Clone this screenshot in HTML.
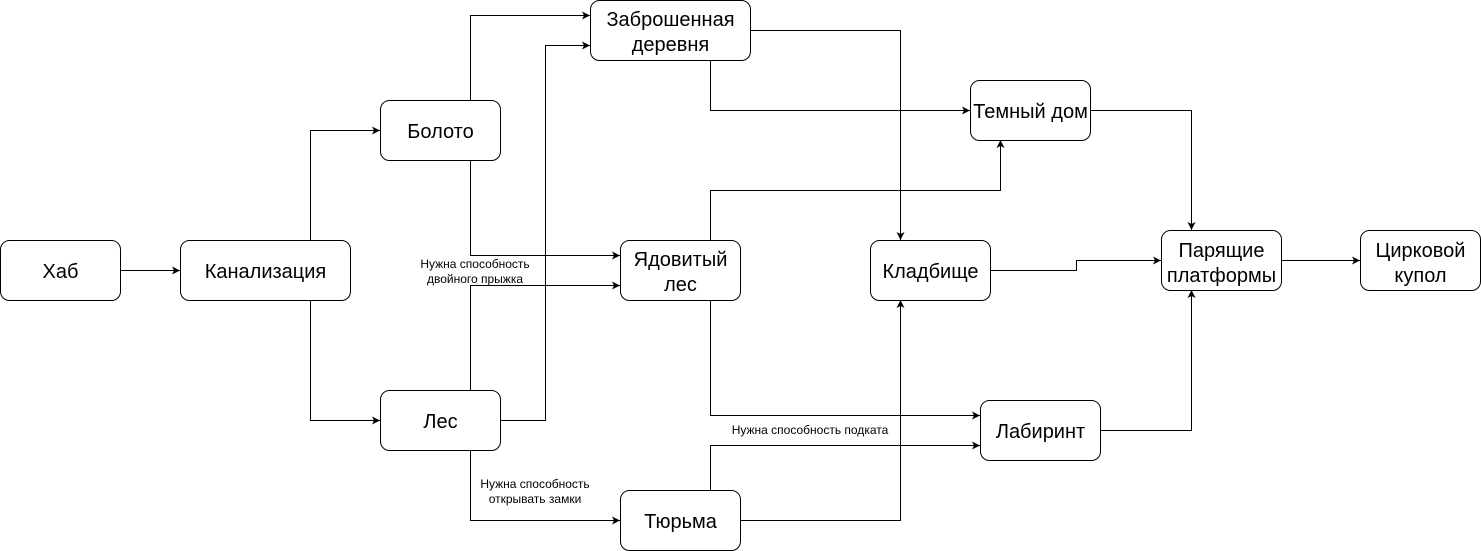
<!DOCTYPE html>
<html><head><meta charset="utf-8"><style>
html,body{margin:0;padding:0;background:#fff}
svg{display:block}
text{font-family:"Liberation Sans",Arial,sans-serif;fill:#000}
.b{font-size:20px;text-anchor:middle}
.l{font-size:12px;text-anchor:middle}
</style></head><body>
<svg width="1481" height="551" viewBox="0 0 1481 551" xmlns="http://www.w3.org/2000/svg">
<defs><marker id="a" markerWidth="10" markerHeight="10" refX="9" refY="5" orient="auto" markerUnits="userSpaceOnUse"><path d="M1,1 L9,5 L1,9 L3,5 z" fill="#000"/></marker></defs>
<g fill="none" stroke="#000" stroke-width="1" marker-end="url(#a)">
<path d="M120.5,270.5H180"/>
<path d="M310.5,240V130.5H380"/>
<path d="M310.5,300V420.5H380"/>
<path d="M470.5,100V15.5H590"/>
<path d="M470.5,160V255.5H620"/>
<path d="M470.5,390V285.5H620"/>
<path d="M500,420.5H545.5V45.5H590"/>
<path d="M470.5,450V520.5H620"/>
<path d="M710.5,60V110.5H970"/>
<path d="M750,30.5H900.5V240"/>
<path d="M710.5,240V190.5H1000.5V140"/>
<path d="M710.5,300V415.5H980"/>
<path d="M710.5,490V445.5H980"/>
<path d="M740,520.5H900.5V300"/>
<path d="M1090,110.5H1191.5V230"/>
<path d="M990,270.5H1076.5V260.5H1161"/>
<path d="M1100,430.5H1191.5V290"/>
<path d="M1281,260.5H1360"/>
</g>
<g fill="#fff" stroke="#000" stroke-width="1">
<rect x="0.5" y="240.5" width="120" height="60" rx="9"/>
<rect x="180.5" y="240.5" width="170" height="60" rx="9"/>
<rect x="380.5" y="100.5" width="120" height="60" rx="9"/>
<rect x="380.5" y="390.5" width="120" height="60" rx="9"/>
<rect x="590.5" y="0.5" width="160" height="60" rx="9"/>
<rect x="620.5" y="240.5" width="120" height="60" rx="9"/>
<rect x="620.5" y="490.5" width="120" height="60" rx="9"/>
<rect x="970.5" y="80.5" width="120" height="60" rx="9"/>
<rect x="870.5" y="240.5" width="120" height="60" rx="9"/>
<rect x="980.5" y="400.5" width="120" height="60" rx="9"/>
<rect x="1161.5" y="230.5" width="120" height="60" rx="9"/>
<rect x="1360.5" y="230.5" width="120" height="60" rx="9"/>
</g>
<text class="b" x="60.5" y="278">Хаб</text>
<text class="b" x="265.5" y="278">Канализация</text>
<text class="b" x="440.5" y="138">Болото</text>
<text class="b" x="440.5" y="428">Лес</text>
<text class="b" x="670.5" y="26">Заброшенная</text>
<text class="b" x="670.5" y="51">деревня</text>
<text class="b" x="680.5" y="266">Ядовитый</text>
<text class="b" x="680.5" y="291">лес</text>
<text class="b" x="680.5" y="528">Тюрьма</text>
<text class="b" x="1030.5" y="118">Темный дом</text>
<text class="b" x="930.5" y="278">Кладбище</text>
<text class="b" x="1040.5" y="438">Лабиринт</text>
<text class="b" x="1221.5" y="257">Парящие</text>
<text class="b" x="1221.5" y="282">платформы</text>
<text class="b" x="1420.5" y="257">Цирковой</text>
<text class="b" x="1420.5" y="282">купол</text>
<text class="l" x="475" y="268">Нужна способность</text>
<text class="l" x="475" y="283">двойного прыжка</text>
<text class="l" x="810" y="434">Нужна способность подката</text>
<text class="l" x="535" y="488">Нужна способность</text>
<text class="l" x="535" y="503">открывать замки</text>
</svg>
</body></html>
